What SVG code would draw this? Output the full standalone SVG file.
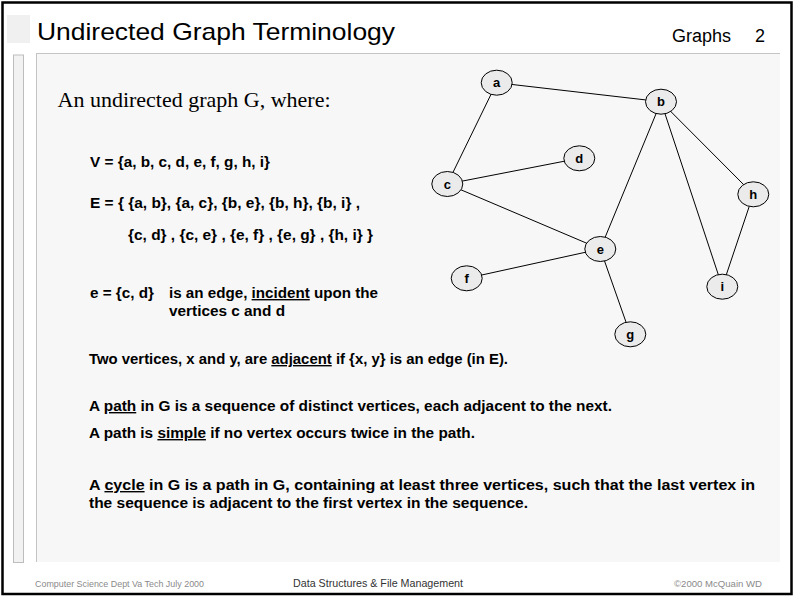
<svg xmlns="http://www.w3.org/2000/svg" width="793" height="597" viewBox="0 0 793 597">
<style>
.node ellipse{fill:#ebebeb;stroke:#000;stroke-width:1}
.node text{font-family:"Liberation Sans",Arial,sans-serif;font-weight:bold;font-size:13px;text-anchor:middle;fill:#000}
.edges line{stroke:#000;stroke-width:1}
.b{font-family:"Liberation Sans",Arial,sans-serif;font-weight:bold;font-size:14px;fill:#000}
.u{text-decoration:underline}
.foot{font-family:"Liberation Sans",Arial,sans-serif;font-size:9px;fill:#8a8a8a}
</style>
<rect x="0" y="0" width="793" height="597" fill="#fff"/>
<rect x="7" y="15" width="23" height="28" fill="#f0f0f0"/>
<rect x="13.5" y="55" width="10" height="507.5" fill="#f2f2f2" stroke="#bdbdbd" stroke-width="1"/>
<rect x="36" y="53" width="744" height="509" fill="#f7f7f7"/>
<line x1="36" y1="53.5" x2="780" y2="53.5" stroke="#c4c4c4" stroke-width="1"/>
<line x1="36.5" y1="53" x2="36.5" y2="562" stroke="#c4c4c4" stroke-width="1"/>
<rect x="2.5" y="2.5" width="789" height="591.5" fill="none" stroke="#000" stroke-width="2.5"/>
<text x="37" y="40" font-family="Liberation Sans,Arial,sans-serif" font-size="24" fill="#000" textLength="358" lengthAdjust="spacingAndGlyphs">Undirected Graph Terminology</text>
<text x="672" y="41.5" font-family="Liberation Sans,Arial,sans-serif" font-size="18" fill="#000">Graphs</text>
<text x="755" y="41.5" font-family="Liberation Sans,Arial,sans-serif" font-size="18" fill="#000">2</text>
<text x="57.5" y="106.5" font-family="Liberation Serif,Times New Roman,serif" font-size="22" fill="#000">An undirected graph G, where:</text>
<text class="b" x="90" y="167" textLength="180" lengthAdjust="spacingAndGlyphs">V = {a, b, c, d, e, f, g, h, i}</text>
<text class="b" x="90" y="208" textLength="270" lengthAdjust="spacingAndGlyphs">E = { {a, b}, {a, c}, {b, e}, {b, h}, {b, i} ,</text>
<text class="b" x="128" y="240" textLength="245" lengthAdjust="spacingAndGlyphs">{c, d} , {c, e} , {e, f} , {e, g} , {h, i} }</text>
<text class="b" x="90" y="298" textLength="64" lengthAdjust="spacingAndGlyphs">e = {c, d}</text>
<text class="b" x="169" y="298" textLength="209" lengthAdjust="spacingAndGlyphs">is an edge, <tspan class="u">incident</tspan> upon the</text>
<text class="b" x="169" y="316" textLength="116" lengthAdjust="spacingAndGlyphs">vertices c and d</text>
<text class="b" x="89" y="364" textLength="419" lengthAdjust="spacingAndGlyphs">Two vertices, x and y, are <tspan class="u">adjacent</tspan> if {x, y} is an edge (in E).</text>
<text class="b" x="89" y="411" textLength="523" lengthAdjust="spacingAndGlyphs">A <tspan class="u">path</tspan> in G is a sequence of distinct vertices, each adjacent to the next.</text>
<text class="b" x="89" y="438" textLength="386" lengthAdjust="spacingAndGlyphs">A path is <tspan class="u">simple</tspan> if no vertex occurs twice in the path.</text>
<text class="b" x="89" y="490" textLength="666" lengthAdjust="spacingAndGlyphs">A <tspan class="u">cycle</tspan> in G is a path in G, containing at least three vertices, such that the last vertex in</text>
<text class="b" x="89" y="508" textLength="439" lengthAdjust="spacingAndGlyphs">the sequence is adjacent to the first vertex in the sequence.</text>
<text class="foot" x="35" y="587" textLength="169" lengthAdjust="spacingAndGlyphs">Computer Science Dept Va Tech July 2000</text>
<text x="293" y="587" font-family="Liberation Sans,Arial,sans-serif" font-size="11" fill="#333" textLength="170" lengthAdjust="spacingAndGlyphs">Data Structures &amp; File Management</text>
<text class="foot" x="674" y="587" textLength="88" lengthAdjust="spacingAndGlyphs">©2000  McQuain WD</text>
<g class="edges">
<line x1="496.7" y1="82.7" x2="661" y2="101.7"/>
<line x1="496.7" y1="82.7" x2="447.3" y2="184"/>
<line x1="447.3" y1="184" x2="579.3" y2="158.3"/>
<line x1="447.3" y1="184" x2="600.3" y2="249"/>
<line x1="661" y1="101.7" x2="600.3" y2="249"/>
<line x1="661" y1="101.7" x2="722.3" y2="286.7"/>
<line x1="661" y1="101.7" x2="753.3" y2="194.3"/>
<line x1="753.3" y1="194.3" x2="722.3" y2="286.7"/>
<line x1="600.3" y1="249" x2="466.7" y2="278.3"/>
<line x1="600.3" y1="249" x2="630.3" y2="334.3"/>
</g>
<g id="node-a" class="node"><ellipse cx="496.7" cy="82.7" rx="15.5" ry="12.5"/><text x="496.7" y="87.2">a</text></g>
<g id="node-b" class="node"><ellipse cx="661" cy="101.7" rx="15.5" ry="12.5"/><text x="661" y="106.2">b</text></g>
<g id="node-c" class="node"><ellipse cx="447.3" cy="184" rx="15.5" ry="12.5"/><text x="447.3" y="188.5">c</text></g>
<g id="node-d" class="node"><ellipse cx="579.3" cy="158.3" rx="15.5" ry="12.5"/><text x="579.3" y="162.8">d</text></g>
<g id="node-e" class="node"><ellipse cx="600.3" cy="249" rx="15.5" ry="12.5"/><text x="600.3" y="253.5">e</text></g>
<g id="node-f" class="node"><ellipse cx="466.7" cy="278.3" rx="15.5" ry="12.5"/><text x="466.7" y="282.8">f</text></g>
<g id="node-g" class="node"><ellipse cx="630.3" cy="334.3" rx="15.5" ry="12.5"/><text x="630.3" y="338.8">g</text></g>
<g id="node-h" class="node"><ellipse cx="753.3" cy="194.3" rx="15.5" ry="12.5"/><text x="753.3" y="198.8">h</text></g>
<g id="node-i" class="node"><ellipse cx="722.3" cy="286.7" rx="15.5" ry="12.5"/><text x="722.3" y="291.2">i</text></g>
</svg>
